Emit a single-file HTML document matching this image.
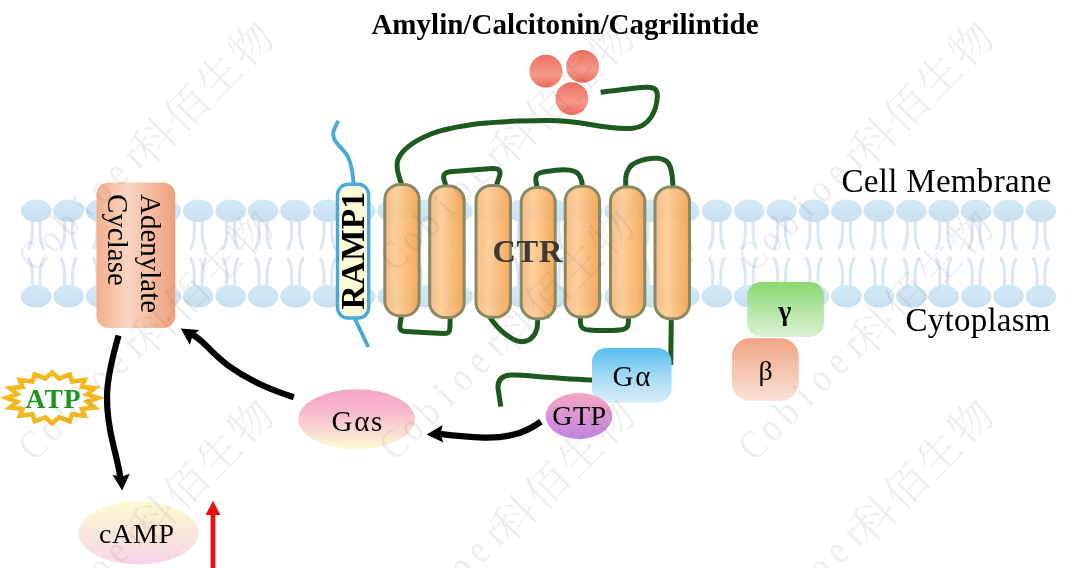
<!DOCTYPE html>
<html lang="en"><head><meta charset="utf-8"><title>Amylin/Calcitonin/Cagrilintide signalling</title>
<style>
html,body{margin:0;padding:0;background:#fff;}
body{width:1078px;height:568px;overflow:hidden;}
svg{display:block;}
text{font-family:"Liberation Serif","Noto Serif CJK SC",serif;}
.b{font-weight:bold;}
.wm{font-family:"Liberation Serif","Noto Serif CJK SC",serif;font-weight:300;fill:#4a4a4a;fill-opacity:0.095;}
</style></head><body>
<svg width="1078" height="568" viewBox="0 0 1078 568">
<defs>
<linearGradient id="gHead" x1="0" y1="0" x2="0" y2="1"><stop offset="0" stop-color="#d2eaf8"/><stop offset="1" stop-color="#c9dff0"/></linearGradient>
<linearGradient id="gHelix" x1="0" y1="0" x2="1" y2="0"><stop offset="0" stop-color="#f8b67c"/><stop offset="0.35" stop-color="#fdca92"/><stop offset="1" stop-color="#f5a04a"/></linearGradient>
<linearGradient id="gAC" x1="0" y1="0" x2="1" y2="0"><stop offset="0" stop-color="#f3ae8e"/><stop offset="0.4" stop-color="#fbd6c2"/><stop offset="1" stop-color="#f0a07c"/></linearGradient>
<linearGradient id="gLig" x1="0" y1="0" x2="0" y2="1"><stop offset="0" stop-color="#ee6e5e"/><stop offset="0.6" stop-color="#f59a8c"/><stop offset="1" stop-color="#ee6a5a"/></linearGradient>
<linearGradient id="gGa" x1="0" y1="0" x2="0" y2="1"><stop offset="0" stop-color="#57beee"/><stop offset="0.5" stop-color="#a2d9f5"/><stop offset="1" stop-color="#d9effa"/></linearGradient>
<linearGradient id="gGTP" x1="0" y1="0" x2="0" y2="1"><stop offset="0" stop-color="#f6a6c4"/><stop offset="1" stop-color="#c183e3"/></linearGradient>
<linearGradient id="gGas" x1="0" y1="0" x2="0" y2="1"><stop offset="0" stop-color="#f6a6c7"/><stop offset="0.35" stop-color="#f8b6ce"/><stop offset="1" stop-color="#fdfbd2"/></linearGradient>
<linearGradient id="gCamp" x1="0" y1="0" x2="0" y2="1"><stop offset="0" stop-color="#fdface"/><stop offset="1" stop-color="#f8d4ea"/></linearGradient>
<linearGradient id="gGam" x1="0" y1="0" x2="0" y2="1"><stop offset="0" stop-color="#8ad870"/><stop offset="1" stop-color="#dcf2d4"/></linearGradient>
<linearGradient id="gBeta" x1="0" y1="0" x2="0" y2="1"><stop offset="0" stop-color="#f0a584"/><stop offset="1" stop-color="#fbe2d8"/></linearGradient>
</defs>
<rect width="1078" height="568" fill="#fff"/>
<g opacity="0.999">

<g id="membrane">
<path d="M32.2 218.8 L32.3 232.8 Q32.2 241.8 28.9 248.4" fill="none" stroke="#dbe7f3" stroke-width="3.1" stroke-linecap="round"/>
<path d="M32.2 288.3 L32.3 274.3 Q32.2 265.3 28.9 258.7" fill="none" stroke="#dbe7f3" stroke-width="3.1" stroke-linecap="round"/>
<path d="M40.2 218.8 L40.1 232.8 Q40.2 241.8 43.5 248.4" fill="none" stroke="#dbe7f3" stroke-width="3.1" stroke-linecap="round"/>
<path d="M40.2 288.3 L40.1 274.3 Q40.2 265.3 43.5 258.7" fill="none" stroke="#dbe7f3" stroke-width="3.1" stroke-linecap="round"/>
<ellipse cx="36.2" cy="210.8" rx="15.3" ry="11.2" fill="url(#gHead)"/>
<ellipse cx="36.2" cy="296.3" rx="15.3" ry="11.2" fill="url(#gHead)"/>
<path d="M64.6 218.8 L64.7 232.8 Q64.6 241.8 61.3 248.4" fill="none" stroke="#dbe7f3" stroke-width="3.1" stroke-linecap="round"/>
<path d="M64.6 288.3 L64.7 274.3 Q64.6 265.3 61.3 258.7" fill="none" stroke="#dbe7f3" stroke-width="3.1" stroke-linecap="round"/>
<path d="M72.6 218.8 L72.5 232.8 Q72.6 241.8 75.9 248.4" fill="none" stroke="#dbe7f3" stroke-width="3.1" stroke-linecap="round"/>
<path d="M72.6 288.3 L72.5 274.3 Q72.6 265.3 75.9 258.7" fill="none" stroke="#dbe7f3" stroke-width="3.1" stroke-linecap="round"/>
<ellipse cx="68.6" cy="210.8" rx="15.3" ry="11.2" fill="url(#gHead)"/>
<ellipse cx="68.6" cy="296.3" rx="15.3" ry="11.2" fill="url(#gHead)"/>
<path d="M97.0 218.8 L97.1 232.8 Q97.0 241.8 93.7 248.4" fill="none" stroke="#dbe7f3" stroke-width="3.1" stroke-linecap="round"/>
<path d="M97.0 288.3 L97.1 274.3 Q97.0 265.3 93.7 258.7" fill="none" stroke="#dbe7f3" stroke-width="3.1" stroke-linecap="round"/>
<path d="M105.0 218.8 L104.9 232.8 Q105.0 241.8 108.3 248.4" fill="none" stroke="#dbe7f3" stroke-width="3.1" stroke-linecap="round"/>
<path d="M105.0 288.3 L104.9 274.3 Q105.0 265.3 108.3 258.7" fill="none" stroke="#dbe7f3" stroke-width="3.1" stroke-linecap="round"/>
<ellipse cx="101.0" cy="210.8" rx="15.3" ry="11.2" fill="url(#gHead)"/>
<ellipse cx="101.0" cy="296.3" rx="15.3" ry="11.2" fill="url(#gHead)"/>
<path d="M129.4 218.8 L129.5 232.8 Q129.4 241.8 126.1 248.4" fill="none" stroke="#dbe7f3" stroke-width="3.1" stroke-linecap="round"/>
<path d="M129.4 288.3 L129.5 274.3 Q129.4 265.3 126.1 258.7" fill="none" stroke="#dbe7f3" stroke-width="3.1" stroke-linecap="round"/>
<path d="M137.4 218.8 L137.3 232.8 Q137.4 241.8 140.7 248.4" fill="none" stroke="#dbe7f3" stroke-width="3.1" stroke-linecap="round"/>
<path d="M137.4 288.3 L137.3 274.3 Q137.4 265.3 140.7 258.7" fill="none" stroke="#dbe7f3" stroke-width="3.1" stroke-linecap="round"/>
<ellipse cx="133.4" cy="210.8" rx="15.3" ry="11.2" fill="url(#gHead)"/>
<ellipse cx="133.4" cy="296.3" rx="15.3" ry="11.2" fill="url(#gHead)"/>
<path d="M161.8 218.8 L161.9 232.8 Q161.8 241.8 158.5 248.4" fill="none" stroke="#dbe7f3" stroke-width="3.1" stroke-linecap="round"/>
<path d="M161.8 288.3 L161.9 274.3 Q161.8 265.3 158.5 258.7" fill="none" stroke="#dbe7f3" stroke-width="3.1" stroke-linecap="round"/>
<path d="M169.8 218.8 L169.7 232.8 Q169.8 241.8 173.1 248.4" fill="none" stroke="#dbe7f3" stroke-width="3.1" stroke-linecap="round"/>
<path d="M169.8 288.3 L169.7 274.3 Q169.8 265.3 173.1 258.7" fill="none" stroke="#dbe7f3" stroke-width="3.1" stroke-linecap="round"/>
<ellipse cx="165.8" cy="210.8" rx="15.3" ry="11.2" fill="url(#gHead)"/>
<ellipse cx="165.8" cy="296.3" rx="15.3" ry="11.2" fill="url(#gHead)"/>
<path d="M194.2 218.8 L194.3 232.8 Q194.2 241.8 190.9 248.4" fill="none" stroke="#dbe7f3" stroke-width="3.1" stroke-linecap="round"/>
<path d="M194.2 288.3 L194.3 274.3 Q194.2 265.3 190.9 258.7" fill="none" stroke="#dbe7f3" stroke-width="3.1" stroke-linecap="round"/>
<path d="M202.2 218.8 L202.2 232.8 Q202.2 241.8 205.6 248.4" fill="none" stroke="#dbe7f3" stroke-width="3.1" stroke-linecap="round"/>
<path d="M202.2 288.3 L202.2 274.3 Q202.2 265.3 205.6 258.7" fill="none" stroke="#dbe7f3" stroke-width="3.1" stroke-linecap="round"/>
<ellipse cx="198.2" cy="210.8" rx="15.3" ry="11.2" fill="url(#gHead)"/>
<ellipse cx="198.2" cy="296.3" rx="15.3" ry="11.2" fill="url(#gHead)"/>
<path d="M226.7 218.8 L226.8 232.8 Q226.7 241.8 223.4 248.4" fill="none" stroke="#dbe7f3" stroke-width="3.1" stroke-linecap="round"/>
<path d="M226.7 288.3 L226.8 274.3 Q226.7 265.3 223.4 258.7" fill="none" stroke="#dbe7f3" stroke-width="3.1" stroke-linecap="round"/>
<path d="M234.7 218.8 L234.6 232.8 Q234.7 241.8 238.0 248.4" fill="none" stroke="#dbe7f3" stroke-width="3.1" stroke-linecap="round"/>
<path d="M234.7 288.3 L234.6 274.3 Q234.7 265.3 238.0 258.7" fill="none" stroke="#dbe7f3" stroke-width="3.1" stroke-linecap="round"/>
<ellipse cx="230.7" cy="210.8" rx="15.3" ry="11.2" fill="url(#gHead)"/>
<ellipse cx="230.7" cy="296.3" rx="15.3" ry="11.2" fill="url(#gHead)"/>
<path d="M259.1 218.8 L259.2 232.8 Q259.1 241.8 255.8 248.4" fill="none" stroke="#dbe7f3" stroke-width="3.1" stroke-linecap="round"/>
<path d="M259.1 288.3 L259.2 274.3 Q259.1 265.3 255.8 258.7" fill="none" stroke="#dbe7f3" stroke-width="3.1" stroke-linecap="round"/>
<path d="M267.1 218.8 L267.0 232.8 Q267.1 241.8 270.4 248.4" fill="none" stroke="#dbe7f3" stroke-width="3.1" stroke-linecap="round"/>
<path d="M267.1 288.3 L267.0 274.3 Q267.1 265.3 270.4 258.7" fill="none" stroke="#dbe7f3" stroke-width="3.1" stroke-linecap="round"/>
<ellipse cx="263.1" cy="210.8" rx="15.3" ry="11.2" fill="url(#gHead)"/>
<ellipse cx="263.1" cy="296.3" rx="15.3" ry="11.2" fill="url(#gHead)"/>
<path d="M291.5 218.8 L291.6 232.8 Q291.5 241.8 288.2 248.4" fill="none" stroke="#dbe7f3" stroke-width="3.1" stroke-linecap="round"/>
<path d="M291.5 288.3 L291.6 274.3 Q291.5 265.3 288.2 258.7" fill="none" stroke="#dbe7f3" stroke-width="3.1" stroke-linecap="round"/>
<path d="M299.5 218.8 L299.4 232.8 Q299.5 241.8 302.8 248.4" fill="none" stroke="#dbe7f3" stroke-width="3.1" stroke-linecap="round"/>
<path d="M299.5 288.3 L299.4 274.3 Q299.5 265.3 302.8 258.7" fill="none" stroke="#dbe7f3" stroke-width="3.1" stroke-linecap="round"/>
<ellipse cx="295.5" cy="210.8" rx="15.3" ry="11.2" fill="url(#gHead)"/>
<ellipse cx="295.5" cy="296.3" rx="15.3" ry="11.2" fill="url(#gHead)"/>
<path d="M323.9 218.8 L324.0 232.8 Q323.9 241.8 320.6 248.4" fill="none" stroke="#dbe7f3" stroke-width="3.1" stroke-linecap="round"/>
<path d="M323.9 288.3 L324.0 274.3 Q323.9 265.3 320.6 258.7" fill="none" stroke="#dbe7f3" stroke-width="3.1" stroke-linecap="round"/>
<path d="M331.9 218.8 L331.8 232.8 Q331.9 241.8 335.2 248.4" fill="none" stroke="#dbe7f3" stroke-width="3.1" stroke-linecap="round"/>
<path d="M331.9 288.3 L331.8 274.3 Q331.9 265.3 335.2 258.7" fill="none" stroke="#dbe7f3" stroke-width="3.1" stroke-linecap="round"/>
<ellipse cx="327.9" cy="210.8" rx="15.3" ry="11.2" fill="url(#gHead)"/>
<ellipse cx="327.9" cy="296.3" rx="15.3" ry="11.2" fill="url(#gHead)"/>
<path d="M356.3 218.8 L356.4 232.8 Q356.3 241.8 353.0 248.4" fill="none" stroke="#dbe7f3" stroke-width="3.1" stroke-linecap="round"/>
<path d="M356.3 288.3 L356.4 274.3 Q356.3 265.3 353.0 258.7" fill="none" stroke="#dbe7f3" stroke-width="3.1" stroke-linecap="round"/>
<path d="M364.3 218.8 L364.2 232.8 Q364.3 241.8 367.6 248.4" fill="none" stroke="#dbe7f3" stroke-width="3.1" stroke-linecap="round"/>
<path d="M364.3 288.3 L364.2 274.3 Q364.3 265.3 367.6 258.7" fill="none" stroke="#dbe7f3" stroke-width="3.1" stroke-linecap="round"/>
<ellipse cx="360.3" cy="210.8" rx="15.3" ry="11.2" fill="url(#gHead)"/>
<ellipse cx="360.3" cy="296.3" rx="15.3" ry="11.2" fill="url(#gHead)"/>
<path d="M388.7 218.8 L388.8 232.8 Q388.7 241.8 385.4 248.4" fill="none" stroke="#dbe7f3" stroke-width="3.1" stroke-linecap="round"/>
<path d="M388.7 288.3 L388.8 274.3 Q388.7 265.3 385.4 258.7" fill="none" stroke="#dbe7f3" stroke-width="3.1" stroke-linecap="round"/>
<path d="M396.7 218.8 L396.6 232.8 Q396.7 241.8 400.0 248.4" fill="none" stroke="#dbe7f3" stroke-width="3.1" stroke-linecap="round"/>
<path d="M396.7 288.3 L396.6 274.3 Q396.7 265.3 400.0 258.7" fill="none" stroke="#dbe7f3" stroke-width="3.1" stroke-linecap="round"/>
<ellipse cx="392.7" cy="210.8" rx="15.3" ry="11.2" fill="url(#gHead)"/>
<ellipse cx="392.7" cy="296.3" rx="15.3" ry="11.2" fill="url(#gHead)"/>
<path d="M421.1 218.8 L421.2 232.8 Q421.1 241.8 417.8 248.4" fill="none" stroke="#dbe7f3" stroke-width="3.1" stroke-linecap="round"/>
<path d="M421.1 288.3 L421.2 274.3 Q421.1 265.3 417.8 258.7" fill="none" stroke="#dbe7f3" stroke-width="3.1" stroke-linecap="round"/>
<path d="M429.1 218.8 L429.0 232.8 Q429.1 241.8 432.4 248.4" fill="none" stroke="#dbe7f3" stroke-width="3.1" stroke-linecap="round"/>
<path d="M429.1 288.3 L429.0 274.3 Q429.1 265.3 432.4 258.7" fill="none" stroke="#dbe7f3" stroke-width="3.1" stroke-linecap="round"/>
<ellipse cx="425.1" cy="210.8" rx="15.3" ry="11.2" fill="url(#gHead)"/>
<ellipse cx="425.1" cy="296.3" rx="15.3" ry="11.2" fill="url(#gHead)"/>
<path d="M453.5 218.8 L453.6 232.8 Q453.5 241.8 450.2 248.4" fill="none" stroke="#dbe7f3" stroke-width="3.1" stroke-linecap="round"/>
<path d="M453.5 288.3 L453.6 274.3 Q453.5 265.3 450.2 258.7" fill="none" stroke="#dbe7f3" stroke-width="3.1" stroke-linecap="round"/>
<path d="M461.5 218.8 L461.4 232.8 Q461.5 241.8 464.8 248.4" fill="none" stroke="#dbe7f3" stroke-width="3.1" stroke-linecap="round"/>
<path d="M461.5 288.3 L461.4 274.3 Q461.5 265.3 464.8 258.7" fill="none" stroke="#dbe7f3" stroke-width="3.1" stroke-linecap="round"/>
<ellipse cx="457.5" cy="210.8" rx="15.3" ry="11.2" fill="url(#gHead)"/>
<ellipse cx="457.5" cy="296.3" rx="15.3" ry="11.2" fill="url(#gHead)"/>
<path d="M485.9 218.8 L486.0 232.8 Q485.9 241.8 482.6 248.4" fill="none" stroke="#dbe7f3" stroke-width="3.1" stroke-linecap="round"/>
<path d="M485.9 288.3 L486.0 274.3 Q485.9 265.3 482.6 258.7" fill="none" stroke="#dbe7f3" stroke-width="3.1" stroke-linecap="round"/>
<path d="M493.9 218.8 L493.8 232.8 Q493.9 241.8 497.2 248.4" fill="none" stroke="#dbe7f3" stroke-width="3.1" stroke-linecap="round"/>
<path d="M493.9 288.3 L493.8 274.3 Q493.9 265.3 497.2 258.7" fill="none" stroke="#dbe7f3" stroke-width="3.1" stroke-linecap="round"/>
<ellipse cx="489.9" cy="210.8" rx="15.3" ry="11.2" fill="url(#gHead)"/>
<ellipse cx="489.9" cy="296.3" rx="15.3" ry="11.2" fill="url(#gHead)"/>
<path d="M518.4 218.8 L518.5 232.8 Q518.4 241.8 515.1 248.4" fill="none" stroke="#dbe7f3" stroke-width="3.1" stroke-linecap="round"/>
<path d="M518.4 288.3 L518.5 274.3 Q518.4 265.3 515.1 258.7" fill="none" stroke="#dbe7f3" stroke-width="3.1" stroke-linecap="round"/>
<path d="M526.4 218.8 L526.2 232.8 Q526.4 241.8 529.6 248.4" fill="none" stroke="#dbe7f3" stroke-width="3.1" stroke-linecap="round"/>
<path d="M526.4 288.3 L526.2 274.3 Q526.4 265.3 529.6 258.7" fill="none" stroke="#dbe7f3" stroke-width="3.1" stroke-linecap="round"/>
<ellipse cx="522.4" cy="210.8" rx="15.3" ry="11.2" fill="url(#gHead)"/>
<ellipse cx="522.4" cy="296.3" rx="15.3" ry="11.2" fill="url(#gHead)"/>
<path d="M550.8 218.8 L550.9 232.8 Q550.8 241.8 547.5 248.4" fill="none" stroke="#dbe7f3" stroke-width="3.1" stroke-linecap="round"/>
<path d="M550.8 288.3 L550.9 274.3 Q550.8 265.3 547.5 258.7" fill="none" stroke="#dbe7f3" stroke-width="3.1" stroke-linecap="round"/>
<path d="M558.8 218.8 L558.7 232.8 Q558.8 241.8 562.1 248.4" fill="none" stroke="#dbe7f3" stroke-width="3.1" stroke-linecap="round"/>
<path d="M558.8 288.3 L558.7 274.3 Q558.8 265.3 562.1 258.7" fill="none" stroke="#dbe7f3" stroke-width="3.1" stroke-linecap="round"/>
<ellipse cx="554.8" cy="210.8" rx="15.3" ry="11.2" fill="url(#gHead)"/>
<ellipse cx="554.8" cy="296.3" rx="15.3" ry="11.2" fill="url(#gHead)"/>
<path d="M583.2 218.8 L583.3 232.8 Q583.2 241.8 579.9 248.4" fill="none" stroke="#dbe7f3" stroke-width="3.1" stroke-linecap="round"/>
<path d="M583.2 288.3 L583.3 274.3 Q583.2 265.3 579.9 258.7" fill="none" stroke="#dbe7f3" stroke-width="3.1" stroke-linecap="round"/>
<path d="M591.2 218.8 L591.1 232.8 Q591.2 241.8 594.5 248.4" fill="none" stroke="#dbe7f3" stroke-width="3.1" stroke-linecap="round"/>
<path d="M591.2 288.3 L591.1 274.3 Q591.2 265.3 594.5 258.7" fill="none" stroke="#dbe7f3" stroke-width="3.1" stroke-linecap="round"/>
<ellipse cx="587.2" cy="210.8" rx="15.3" ry="11.2" fill="url(#gHead)"/>
<ellipse cx="587.2" cy="296.3" rx="15.3" ry="11.2" fill="url(#gHead)"/>
<path d="M615.6 218.8 L615.7 232.8 Q615.6 241.8 612.3 248.4" fill="none" stroke="#dbe7f3" stroke-width="3.1" stroke-linecap="round"/>
<path d="M615.6 288.3 L615.7 274.3 Q615.6 265.3 612.3 258.7" fill="none" stroke="#dbe7f3" stroke-width="3.1" stroke-linecap="round"/>
<path d="M623.6 218.8 L623.5 232.8 Q623.6 241.8 626.9 248.4" fill="none" stroke="#dbe7f3" stroke-width="3.1" stroke-linecap="round"/>
<path d="M623.6 288.3 L623.5 274.3 Q623.6 265.3 626.9 258.7" fill="none" stroke="#dbe7f3" stroke-width="3.1" stroke-linecap="round"/>
<ellipse cx="619.6" cy="210.8" rx="15.3" ry="11.2" fill="url(#gHead)"/>
<ellipse cx="619.6" cy="296.3" rx="15.3" ry="11.2" fill="url(#gHead)"/>
<path d="M648.0 218.8 L648.1 232.8 Q648.0 241.8 644.7 248.4" fill="none" stroke="#dbe7f3" stroke-width="3.1" stroke-linecap="round"/>
<path d="M648.0 288.3 L648.1 274.3 Q648.0 265.3 644.7 258.7" fill="none" stroke="#dbe7f3" stroke-width="3.1" stroke-linecap="round"/>
<path d="M656.0 218.8 L655.9 232.8 Q656.0 241.8 659.3 248.4" fill="none" stroke="#dbe7f3" stroke-width="3.1" stroke-linecap="round"/>
<path d="M656.0 288.3 L655.9 274.3 Q656.0 265.3 659.3 258.7" fill="none" stroke="#dbe7f3" stroke-width="3.1" stroke-linecap="round"/>
<ellipse cx="652.0" cy="210.8" rx="15.3" ry="11.2" fill="url(#gHead)"/>
<ellipse cx="652.0" cy="296.3" rx="15.3" ry="11.2" fill="url(#gHead)"/>
<path d="M680.4 218.8 L680.5 232.8 Q680.4 241.8 677.1 248.4" fill="none" stroke="#dbe7f3" stroke-width="3.1" stroke-linecap="round"/>
<path d="M680.4 288.3 L680.5 274.3 Q680.4 265.3 677.1 258.7" fill="none" stroke="#dbe7f3" stroke-width="3.1" stroke-linecap="round"/>
<path d="M688.4 218.8 L688.3 232.8 Q688.4 241.8 691.7 248.4" fill="none" stroke="#dbe7f3" stroke-width="3.1" stroke-linecap="round"/>
<path d="M688.4 288.3 L688.3 274.3 Q688.4 265.3 691.7 258.7" fill="none" stroke="#dbe7f3" stroke-width="3.1" stroke-linecap="round"/>
<ellipse cx="684.4" cy="210.8" rx="15.3" ry="11.2" fill="url(#gHead)"/>
<ellipse cx="684.4" cy="296.3" rx="15.3" ry="11.2" fill="url(#gHead)"/>
<path d="M712.8 218.8 L712.9 232.8 Q712.8 241.8 709.5 248.4" fill="none" stroke="#dbe7f3" stroke-width="3.1" stroke-linecap="round"/>
<path d="M712.8 288.3 L712.9 274.3 Q712.8 265.3 709.5 258.7" fill="none" stroke="#dbe7f3" stroke-width="3.1" stroke-linecap="round"/>
<path d="M720.8 218.8 L720.7 232.8 Q720.8 241.8 724.1 248.4" fill="none" stroke="#dbe7f3" stroke-width="3.1" stroke-linecap="round"/>
<path d="M720.8 288.3 L720.7 274.3 Q720.8 265.3 724.1 258.7" fill="none" stroke="#dbe7f3" stroke-width="3.1" stroke-linecap="round"/>
<ellipse cx="716.8" cy="210.8" rx="15.3" ry="11.2" fill="url(#gHead)"/>
<ellipse cx="716.8" cy="296.3" rx="15.3" ry="11.2" fill="url(#gHead)"/>
<path d="M745.2 218.8 L745.3 232.8 Q745.2 241.8 741.9 248.4" fill="none" stroke="#dbe7f3" stroke-width="3.1" stroke-linecap="round"/>
<path d="M745.2 288.3 L745.3 274.3 Q745.2 265.3 741.9 258.7" fill="none" stroke="#dbe7f3" stroke-width="3.1" stroke-linecap="round"/>
<path d="M753.2 218.8 L753.1 232.8 Q753.2 241.8 756.5 248.4" fill="none" stroke="#dbe7f3" stroke-width="3.1" stroke-linecap="round"/>
<path d="M753.2 288.3 L753.1 274.3 Q753.2 265.3 756.5 258.7" fill="none" stroke="#dbe7f3" stroke-width="3.1" stroke-linecap="round"/>
<ellipse cx="749.2" cy="210.8" rx="15.3" ry="11.2" fill="url(#gHead)"/>
<ellipse cx="749.2" cy="296.3" rx="15.3" ry="11.2" fill="url(#gHead)"/>
<path d="M777.6 218.8 L777.7 232.8 Q777.6 241.8 774.3 248.4" fill="none" stroke="#dbe7f3" stroke-width="3.1" stroke-linecap="round"/>
<path d="M777.6 288.3 L777.7 274.3 Q777.6 265.3 774.3 258.7" fill="none" stroke="#dbe7f3" stroke-width="3.1" stroke-linecap="round"/>
<path d="M785.6 218.8 L785.5 232.8 Q785.6 241.8 788.9 248.4" fill="none" stroke="#dbe7f3" stroke-width="3.1" stroke-linecap="round"/>
<path d="M785.6 288.3 L785.5 274.3 Q785.6 265.3 788.9 258.7" fill="none" stroke="#dbe7f3" stroke-width="3.1" stroke-linecap="round"/>
<ellipse cx="781.6" cy="210.8" rx="15.3" ry="11.2" fill="url(#gHead)"/>
<ellipse cx="781.6" cy="296.3" rx="15.3" ry="11.2" fill="url(#gHead)"/>
<path d="M810.0 218.8 L810.1 232.8 Q810.0 241.8 806.7 248.4" fill="none" stroke="#dbe7f3" stroke-width="3.1" stroke-linecap="round"/>
<path d="M810.0 288.3 L810.1 274.3 Q810.0 265.3 806.7 258.7" fill="none" stroke="#dbe7f3" stroke-width="3.1" stroke-linecap="round"/>
<path d="M818.0 218.8 L817.9 232.8 Q818.0 241.8 821.3 248.4" fill="none" stroke="#dbe7f3" stroke-width="3.1" stroke-linecap="round"/>
<path d="M818.0 288.3 L817.9 274.3 Q818.0 265.3 821.3 258.7" fill="none" stroke="#dbe7f3" stroke-width="3.1" stroke-linecap="round"/>
<ellipse cx="814.0" cy="210.8" rx="15.3" ry="11.2" fill="url(#gHead)"/>
<ellipse cx="814.0" cy="296.3" rx="15.3" ry="11.2" fill="url(#gHead)"/>
<path d="M842.4 218.8 L842.5 232.8 Q842.4 241.8 839.1 248.4" fill="none" stroke="#dbe7f3" stroke-width="3.1" stroke-linecap="round"/>
<path d="M842.4 288.3 L842.5 274.3 Q842.4 265.3 839.1 258.7" fill="none" stroke="#dbe7f3" stroke-width="3.1" stroke-linecap="round"/>
<path d="M850.4 218.8 L850.3 232.8 Q850.4 241.8 853.7 248.4" fill="none" stroke="#dbe7f3" stroke-width="3.1" stroke-linecap="round"/>
<path d="M850.4 288.3 L850.3 274.3 Q850.4 265.3 853.7 258.7" fill="none" stroke="#dbe7f3" stroke-width="3.1" stroke-linecap="round"/>
<ellipse cx="846.4" cy="210.8" rx="15.3" ry="11.2" fill="url(#gHead)"/>
<ellipse cx="846.4" cy="296.3" rx="15.3" ry="11.2" fill="url(#gHead)"/>
<path d="M874.9 218.8 L875.0 232.8 Q874.9 241.8 871.6 248.4" fill="none" stroke="#dbe7f3" stroke-width="3.1" stroke-linecap="round"/>
<path d="M874.9 288.3 L875.0 274.3 Q874.9 265.3 871.6 258.7" fill="none" stroke="#dbe7f3" stroke-width="3.1" stroke-linecap="round"/>
<path d="M882.9 218.8 L882.8 232.8 Q882.9 241.8 886.2 248.4" fill="none" stroke="#dbe7f3" stroke-width="3.1" stroke-linecap="round"/>
<path d="M882.9 288.3 L882.8 274.3 Q882.9 265.3 886.2 258.7" fill="none" stroke="#dbe7f3" stroke-width="3.1" stroke-linecap="round"/>
<ellipse cx="878.9" cy="210.8" rx="15.3" ry="11.2" fill="url(#gHead)"/>
<ellipse cx="878.9" cy="296.3" rx="15.3" ry="11.2" fill="url(#gHead)"/>
<path d="M907.3 218.8 L907.4 232.8 Q907.3 241.8 904.0 248.4" fill="none" stroke="#dbe7f3" stroke-width="3.1" stroke-linecap="round"/>
<path d="M907.3 288.3 L907.4 274.3 Q907.3 265.3 904.0 258.7" fill="none" stroke="#dbe7f3" stroke-width="3.1" stroke-linecap="round"/>
<path d="M915.3 218.8 L915.2 232.8 Q915.3 241.8 918.6 248.4" fill="none" stroke="#dbe7f3" stroke-width="3.1" stroke-linecap="round"/>
<path d="M915.3 288.3 L915.2 274.3 Q915.3 265.3 918.6 258.7" fill="none" stroke="#dbe7f3" stroke-width="3.1" stroke-linecap="round"/>
<ellipse cx="911.3" cy="210.8" rx="15.3" ry="11.2" fill="url(#gHead)"/>
<ellipse cx="911.3" cy="296.3" rx="15.3" ry="11.2" fill="url(#gHead)"/>
<path d="M939.7 218.8 L939.8 232.8 Q939.7 241.8 936.4 248.4" fill="none" stroke="#dbe7f3" stroke-width="3.1" stroke-linecap="round"/>
<path d="M939.7 288.3 L939.8 274.3 Q939.7 265.3 936.4 258.7" fill="none" stroke="#dbe7f3" stroke-width="3.1" stroke-linecap="round"/>
<path d="M947.7 218.8 L947.6 232.8 Q947.7 241.8 951.0 248.4" fill="none" stroke="#dbe7f3" stroke-width="3.1" stroke-linecap="round"/>
<path d="M947.7 288.3 L947.6 274.3 Q947.7 265.3 951.0 258.7" fill="none" stroke="#dbe7f3" stroke-width="3.1" stroke-linecap="round"/>
<ellipse cx="943.7" cy="210.8" rx="15.3" ry="11.2" fill="url(#gHead)"/>
<ellipse cx="943.7" cy="296.3" rx="15.3" ry="11.2" fill="url(#gHead)"/>
<path d="M972.1 218.8 L972.2 232.8 Q972.1 241.8 968.8 248.4" fill="none" stroke="#dbe7f3" stroke-width="3.1" stroke-linecap="round"/>
<path d="M972.1 288.3 L972.2 274.3 Q972.1 265.3 968.8 258.7" fill="none" stroke="#dbe7f3" stroke-width="3.1" stroke-linecap="round"/>
<path d="M980.1 218.8 L980.0 232.8 Q980.1 241.8 983.4 248.4" fill="none" stroke="#dbe7f3" stroke-width="3.1" stroke-linecap="round"/>
<path d="M980.1 288.3 L980.0 274.3 Q980.1 265.3 983.4 258.7" fill="none" stroke="#dbe7f3" stroke-width="3.1" stroke-linecap="round"/>
<ellipse cx="976.1" cy="210.8" rx="15.3" ry="11.2" fill="url(#gHead)"/>
<ellipse cx="976.1" cy="296.3" rx="15.3" ry="11.2" fill="url(#gHead)"/>
<path d="M1004.5 218.8 L1004.6 232.8 Q1004.5 241.8 1001.2 248.4" fill="none" stroke="#dbe7f3" stroke-width="3.1" stroke-linecap="round"/>
<path d="M1004.5 288.3 L1004.6 274.3 Q1004.5 265.3 1001.2 258.7" fill="none" stroke="#dbe7f3" stroke-width="3.1" stroke-linecap="round"/>
<path d="M1012.5 218.8 L1012.4 232.8 Q1012.5 241.8 1015.8 248.4" fill="none" stroke="#dbe7f3" stroke-width="3.1" stroke-linecap="round"/>
<path d="M1012.5 288.3 L1012.4 274.3 Q1012.5 265.3 1015.8 258.7" fill="none" stroke="#dbe7f3" stroke-width="3.1" stroke-linecap="round"/>
<ellipse cx="1008.5" cy="210.8" rx="15.3" ry="11.2" fill="url(#gHead)"/>
<ellipse cx="1008.5" cy="296.3" rx="15.3" ry="11.2" fill="url(#gHead)"/>
<path d="M1036.9 218.8 L1037.0 232.8 Q1036.9 241.8 1033.6 248.4" fill="none" stroke="#dbe7f3" stroke-width="3.1" stroke-linecap="round"/>
<path d="M1036.9 288.3 L1037.0 274.3 Q1036.9 265.3 1033.6 258.7" fill="none" stroke="#dbe7f3" stroke-width="3.1" stroke-linecap="round"/>
<path d="M1044.9 218.8 L1044.8 232.8 Q1044.9 241.8 1048.2 248.4" fill="none" stroke="#dbe7f3" stroke-width="3.1" stroke-linecap="round"/>
<path d="M1044.9 288.3 L1044.8 274.3 Q1044.9 265.3 1048.2 258.7" fill="none" stroke="#dbe7f3" stroke-width="3.1" stroke-linecap="round"/>
<ellipse cx="1040.9" cy="210.8" rx="15.3" ry="11.2" fill="url(#gHead)"/>
<ellipse cx="1040.9" cy="296.3" rx="15.3" ry="11.2" fill="url(#gHead)"/>
</g>
<rect x="96.5" y="182.6" width="78.7" height="145.4" rx="12" ry="12" fill="url(#gAC)"/>
<text transform="translate(141.3 194) rotate(90)" font-size="29" fill="#000">Adenylate</text>
<text transform="translate(108.4 194) rotate(90)" font-size="29" fill="#000">Cyclase</text>
<path d="M338.2 120.8 C335 128 331.5 132 334 138.5 C336.5 145 345 150 348.5 158 C352 166 353 175 353.6 184" fill="none" stroke="#4aa9d9" stroke-width="3.9" stroke-linecap="butt"/>
<path d="M355 319 L368.3 347" fill="none" stroke="#4aa9d9" stroke-width="3.9"/>
<rect x="337.5" y="184.3" width="31.2" height="133.7" rx="10.5" ry="10.5" fill="#fdfbd6" stroke="#4aa9d9" stroke-width="3.4"/>
<text class="b" transform="translate(363.6 309.4) rotate(-90)" font-size="33.5" textLength="117.4" fill="#000">RAMP1</text>
<path d="M600.6 92.3 C618 90 636 87.8 646 87.2 C654 86.8 657.6 89.5 657.4 96 C657 104 655 111 651.5 116.5 C647 123.5 641 127.5 633 128.3 C620 129.5 604 127 590 124.5 C576 122 560 120.5 546 120.6 C524 120.8 500 121.5 480 123.5 C460 126 444 129 431 134 C415 140.5 402 149 397.8 160 C395.6 167 398.4 176 401.8 184.4" fill="none" stroke="#1c5a1f" stroke-width="5.0" stroke-linecap="butt" stroke-linejoin="round"/>
<path d="M446 186 L443.8 179 C443 174.5 445 172.3 450 171.8 L492 168.6 C498.5 168.2 500.8 170 499.8 175 L496.4 185.6" fill="none" stroke="#1c5a1f" stroke-width="5.0" stroke-linecap="butt" stroke-linejoin="round"/>
<path d="M537 187.4 L535.8 180 C535.3 174.5 538 172.6 543.5 171.9 C550 171 557 170 563 169.8 C571 169.7 577 171 579.5 175.5 C581.5 179 582.3 183 582.5 186.2" fill="none" stroke="#1c5a1f" stroke-width="5.0" stroke-linecap="butt" stroke-linejoin="round"/>
<path d="M625.7 186.9 L625.7 178 C626.5 170 630.5 164.5 637 162 C644 159 652 157.8 658 158.3 C665 159 669 162 670.5 167.5 C672 173 672.8 180 673 187.1" fill="none" stroke="#1c5a1f" stroke-width="5.0" stroke-linecap="butt" stroke-linejoin="round"/>
<path d="M401.4 316 L400 325 C399.4 329.6 401 331.2 405.5 331.5 L443.5 333.4 C448.3 333.6 449.8 332.2 449.9 327.8 L450.2 317.5" fill="none" stroke="#1c5a1f" stroke-width="5.0" stroke-linecap="butt" stroke-linejoin="round"/>
<path d="M489.8 317.2 C494 323.5 499 329.5 505.2 334 C510 337.5 515 341 520 341.6 C526 342.2 530.5 340 533.8 335.5 C536.5 331.8 537.6 328 537.6 322 L537.6 318.7" fill="none" stroke="#1c5a1f" stroke-width="5.0" stroke-linecap="butt" stroke-linejoin="round"/>
<path d="M580.4 317 L580.4 322.5 C580.6 327.8 583.5 329.6 589 330 C599 330.8 610 330.8 620 330 C625.8 329.5 628.3 327.5 628.4 322.5 L628.4 317.3" fill="none" stroke="#1c5a1f" stroke-width="5.0" stroke-linecap="butt" stroke-linejoin="round"/>
<path d="M671.3 318.7 L670.7 365" fill="none" stroke="#1c5a1f" stroke-width="5.0" stroke-linecap="butt" stroke-linejoin="round"/>
<path d="M596 380.2 C575 379.3 555 377.8 536.3 376.4 C527 375.6 518 374.6 511 375 C502 375.6 497.6 380 498 388 L500.8 406.7" fill="none" stroke="#1c5a1f" stroke-width="5.0" stroke-linecap="butt" stroke-linejoin="round"/>
<rect x="384.8" y="184.4" width="34.3" height="131.4" rx="15.2" ry="14.8" fill="url(#gHelix)" fill-opacity="0.9" stroke="#888b62" stroke-width="3"/>
<rect x="429.7" y="186.0" width="34.5" height="131.5" rx="15.2" ry="14.8" fill="url(#gHelix)" fill-opacity="0.9" stroke="#888b62" stroke-width="3"/>
<rect x="476.0" y="185.6" width="34.5" height="131.6" rx="15.2" ry="14.8" fill="url(#gHelix)" fill-opacity="0.9" stroke="#888b62" stroke-width="3"/>
<rect x="521.2" y="187.4" width="34.0" height="131.3" rx="15.2" ry="14.8" fill="url(#gHelix)" fill-opacity="0.9" stroke="#888b62" stroke-width="3"/>
<rect x="565.2" y="186.2" width="34.3" height="130.7" rx="15.2" ry="14.8" fill="url(#gHelix)" fill-opacity="0.9" stroke="#888b62" stroke-width="3"/>
<rect x="610.5" y="186.9" width="34.3" height="130.4" rx="15.2" ry="14.8" fill="url(#gHelix)" fill-opacity="0.9" stroke="#888b62" stroke-width="3"/>
<rect x="655.0" y="187.1" width="34.5" height="131.6" rx="15.2" ry="14.8" fill="url(#gHelix)" fill-opacity="0.9" stroke="#888b62" stroke-width="3"/>
<text class="b" x="492.4" y="262.3" font-size="32.5" textLength="70" fill="#3b3838">CTR</text>
<circle cx="545.9" cy="71.2" r="16.4" fill="url(#gLig)"/>
<circle cx="582.6" cy="66.4" r="16.4" fill="url(#gLig)"/>
<circle cx="571.8" cy="98.6" r="16.4" fill="url(#gLig)"/>
<rect x="592" y="347.9" width="79.5" height="54.9" rx="14" ry="14" fill="url(#gGa)"/>
<text x="612.4" y="386" font-size="29" textLength="38" fill="#000">Gα</text>
<ellipse cx="579" cy="416" rx="33.4" ry="23" fill="url(#gGTP)"/>
<text x="552.2" y="425.4" font-size="28" textLength="54" fill="#000">GTP</text>
<ellipse cx="356.6" cy="419.3" rx="58.4" ry="30" fill="url(#gGas)"/>
<text x="331.4" y="431" font-size="29" textLength="51" fill="#000">Gαs</text>
<rect x="747.2" y="281.9" width="76.7" height="55" rx="14" ry="14" fill="url(#gGam)"/>
<text class="b" x="784.8" y="320" font-size="28" text-anchor="middle" fill="#000">γ</text>
<rect x="731.9" y="338.2" width="66.9" height="62.6" rx="18" ry="18" fill="url(#gBeta)"/>
<text x="765.5" y="379.7" font-size="28" text-anchor="middle" fill="#000">β</text>
<ellipse cx="138.4" cy="533" rx="60" ry="31.5" fill="url(#gCamp)"/>
<text x="99" y="543" font-size="28" textLength="75" fill="#000">cAMP</text>
<polygon points="6.4,397.9 17.2,394.1 9.9,388.2 22.5,386.9 19.8,380.0 32.4,381.5 34.7,374.5 45.2,378.5 52.2,372.6 59.2,378.5 69.7,374.5 72.0,381.5 84.6,380.0 81.9,386.9 94.5,388.2 87.2,394.1 98.0,397.9 87.2,401.7 94.5,407.6 81.9,408.9 84.6,415.8 72.0,414.3 69.7,421.3 59.2,417.3 52.2,423.2 45.2,417.3 34.7,421.3 32.4,414.3 19.8,415.8 22.5,408.9 9.9,407.6 17.2,401.7" fill="#fff" stroke="#f6b81f" stroke-width="4.6" stroke-miterlimit="10" stroke-linejoin="miter"/>
<text class="b" x="25.6" y="407.8" font-size="27.5" textLength="55" fill="#18981f">ATP</text>
<path d="M541 421.6 C532 428 523 432.3 513.8 434.6 C505 436.8 496 437.6 487.8 437.6 C472 437.6 455 435.6 440 433.8" fill="none" stroke="#000" stroke-width="6.2" stroke-linecap="butt"/>
<polygon transform="translate(426.6 434.4) rotate(177.5)" points="0,0 -16.4,-8.7 -13.899999999999999,0 -16.4,8.7" fill="#000"/>
<path d="M293.8 397.2 C281 393.2 269 388.6 258 383.3 C247 378 237 372 228.1 365.5 C219.5 359 212 351.7 205.2 344.7 C200.5 340.2 196 336.5 192 334.3" fill="none" stroke="#000" stroke-width="6.2" stroke-linecap="butt"/>
<polygon transform="translate(180.7 328.5) rotate(212.5)" points="0,0 -16.4,-8.7 -13.899999999999999,0 -16.4,8.7" fill="#000"/>
<path d="M118.6 335.5 C113 355 107.3 376 107 396 C106.7 414 110 432 114 448 C116.5 458 119 468 120.4 478" fill="none" stroke="#000" stroke-width="6.2" stroke-linecap="butt"/>
<polygon transform="translate(122.2 490.6) rotate(86)" points="0,0 -16.4,-8.7 -13.899999999999999,0 -16.4,8.7" fill="#000"/>
<path d="M213 568 L213 512" stroke="#f20d0d" stroke-width="4.8" fill="none"/>
<polygon points="213,500.8 205.6,514.9 220.4,514.9" fill="#f20d0d"/>
<text x="841.4" y="192" font-size="33" textLength="210" fill="#000">Cell Membrane</text>
<text x="905.6" y="331.1" font-size="33" textLength="144.8" fill="#000">Cytoplasm</text>
<text class="b" x="371.4" y="34.2" font-size="29" textLength="387.2" fill="#000">Amylin/Calcitonin/Cagrilintide</text>
<text class="wm" text-anchor="middle" transform="translate(35.2 281.4) rotate(-45) translate(5 -6.2) scale(0.83 1)" font-size="41" x="13.8 42.1 70.4 98.7 127.0 155.4 183.7" y="0">Cobioer</text>
<text class="wm" text-anchor="middle" transform="translate(35.2 281.4) rotate(-45)" font-size="43" x="183.2 229.0 274.8 320.6" y="0">科佰生物</text>
<text class="wm" text-anchor="middle" transform="translate(396.2 280.9) rotate(-45) translate(5 -6.2) scale(0.83 1)" font-size="41" x="13.8 42.1 70.4 98.7 127.0 155.4 183.7" y="0">Cobioer</text>
<text class="wm" text-anchor="middle" transform="translate(396.2 280.9) rotate(-45)" font-size="43" x="183.2 229.0 274.8 320.6" y="0">科佰生物</text>
<text class="wm" text-anchor="middle" transform="translate(755.2 281.4) rotate(-45) translate(5 -6.2) scale(0.83 1)" font-size="41" x="13.8 42.1 70.4 98.7 127.0 155.4 183.7" y="0">Cobioer</text>
<text class="wm" text-anchor="middle" transform="translate(755.2 281.4) rotate(-45)" font-size="43" x="183.2 229.0 274.8 320.6" y="0">科佰生物</text>
<text class="wm" text-anchor="middle" transform="translate(35.2 470.4) rotate(-45) translate(5 -6.2) scale(0.83 1)" font-size="41" x="13.8 42.1 70.4 98.7 127.0 155.4 183.7" y="0">Cobioer</text>
<text class="wm" text-anchor="middle" transform="translate(35.2 470.4) rotate(-45)" font-size="43" x="183.2 229.0 274.8 320.6" y="0">科佰生物</text>
<text class="wm" text-anchor="middle" transform="translate(396.2 469.9) rotate(-45) translate(5 -6.2) scale(0.83 1)" font-size="41" x="13.8 42.1 70.4 98.7 127.0 155.4 183.7" y="0">Cobioer</text>
<text class="wm" text-anchor="middle" transform="translate(396.2 469.9) rotate(-45)" font-size="43" x="183.2 229.0 274.8 320.6" y="0">科佰生物</text>
<text class="wm" text-anchor="middle" transform="translate(755.2 470.4) rotate(-45) translate(5 -6.2) scale(0.83 1)" font-size="41" x="13.8 42.1 70.4 98.7 127.0 155.4 183.7" y="0">Cobioer</text>
<text class="wm" text-anchor="middle" transform="translate(755.2 470.4) rotate(-45)" font-size="43" x="183.2 229.0 274.8 320.6" y="0">科佰生物</text>
<text class="wm" text-anchor="middle" transform="translate(35.2 659.4) rotate(-45) translate(5 -6.2) scale(0.83 1)" font-size="41" x="13.8 42.1 70.4 98.7 127.0 155.4 183.7" y="0">Cobioer</text>
<text class="wm" text-anchor="middle" transform="translate(35.2 659.4) rotate(-45)" font-size="43" x="183.2 229.0 274.8 320.6" y="0">科佰生物</text>
<text class="wm" text-anchor="middle" transform="translate(396.2 658.9) rotate(-45) translate(5 -6.2) scale(0.83 1)" font-size="41" x="13.8 42.1 70.4 98.7 127.0 155.4 183.7" y="0">Cobioer</text>
<text class="wm" text-anchor="middle" transform="translate(396.2 658.9) rotate(-45)" font-size="43" x="183.2 229.0 274.8 320.6" y="0">科佰生物</text>
<text class="wm" text-anchor="middle" transform="translate(755.2 659.4) rotate(-45) translate(5 -6.2) scale(0.83 1)" font-size="41" x="13.8 42.1 70.4 98.7 127.0 155.4 183.7" y="0">Cobioer</text>
<text class="wm" text-anchor="middle" transform="translate(755.2 659.4) rotate(-45)" font-size="43" x="183.2 229.0 274.8 320.6" y="0">科佰生物</text>
</g></svg></body></html>
